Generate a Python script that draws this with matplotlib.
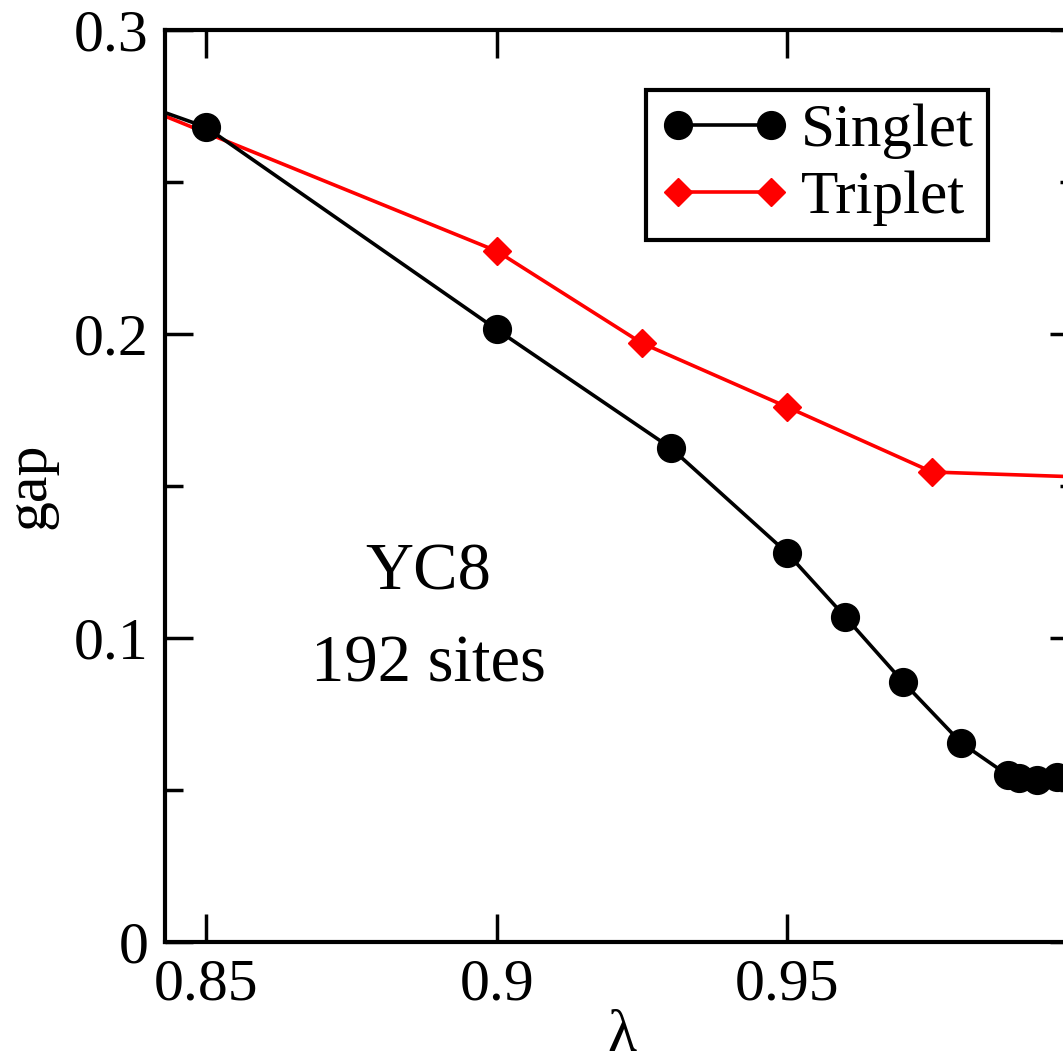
import matplotlib
matplotlib.use("Agg")
import matplotlib.pyplot as plt
from matplotlib.ticker import MultipleLocator, FuncFormatter

plt.rcParams['font.family'] = ['Liberation Serif', 'DejaVu Serif']

# singlet gap vs lambda (first point sits left of the visible range)
lam_singlet = [0.80, 0.85, 0.90, 0.93, 0.95, 0.96, 0.97, 0.98, 0.988, 0.990, 0.993, 0.9965]
gap_singlet = [0.302, 0.268, 0.2015, 0.1625, 0.128, 0.107, 0.0855, 0.0655, 0.0549, 0.0539, 0.0533, 0.0543]

# triplet gap vs lambda (end points lie outside the visible range)
lam_triplet = [0.80, 0.90, 0.925, 0.95, 0.975, 1.00]
gap_triplet = [0.305, 0.2273, 0.197, 0.176, 0.1546, 0.1530]

x_ticks = [0.85, 0.9, 0.95]
y_ticks = [0.0, 0.1, 0.2, 0.3]


def main():
    fig = plt.figure(figsize=(10.63, 10.62), dpi=100)
    # axes run past the right edge of the picture, like the reference crop
    ax = fig.add_axes([165 / 1063, 120 / 1062, 913 / 1063, 912 / 1062])

    ax.plot(lam_singlet, gap_singlet, color='black', lw=2.6, marker='o',
            ms=20, label='Singlet', zorder=3)
    ax.plot(lam_triplet, gap_triplet, color='red', lw=2.6, marker='D',
            ms=14.5, label='Triplet', zorder=2)

    ax.set_xlim(0.8429, 1.0001)
    ax.set_ylim(0, 0.3)
    ax.set_xticks(x_ticks)
    ax.set_yticks(y_ticks)
    ax.yaxis.set_minor_locator(MultipleLocator(0.05))
    fmt = FuncFormatter(lambda v, p: f"{v:g}")
    ax.xaxis.set_major_formatter(fmt)
    ax.yaxis.set_major_formatter(fmt)

    ax.tick_params(which='both', direction='in', top=True, right=True,
                   width=2.5, labelsize=43)
    ax.tick_params(which='major', length=20, pad=12)
    ax.tick_params(which='minor', length=13)
    for s in ax.spines.values():
        s.set_linewidth(3)

    ax.set_xlabel('λ', fontsize=43, labelpad=-2)
    ax.set_ylabel('gap', fontsize=43, labelpad=12)

    ax.text(0.8882, 0.1214, 'YC8', fontsize=48, ha='center', va='center')
    ax.text(0.8882, 0.0911, '192 sites', fontsize=48, ha='center', va='center')

    leg = ax.legend(loc='upper right', bbox_to_anchor=(0.901, 0.934),
                    fontsize=44, numpoints=2, handlelength=2.12,
                    handletextpad=0.2, labelspacing=0.18, borderpad=0.22,
                    borderaxespad=0, fancybox=False, framealpha=1,
                    edgecolor='black')
    leg.get_frame().set_linewidth(3)

    fig.savefig('out.png', dpi=100)


if __name__ == "__main__":
    main()
